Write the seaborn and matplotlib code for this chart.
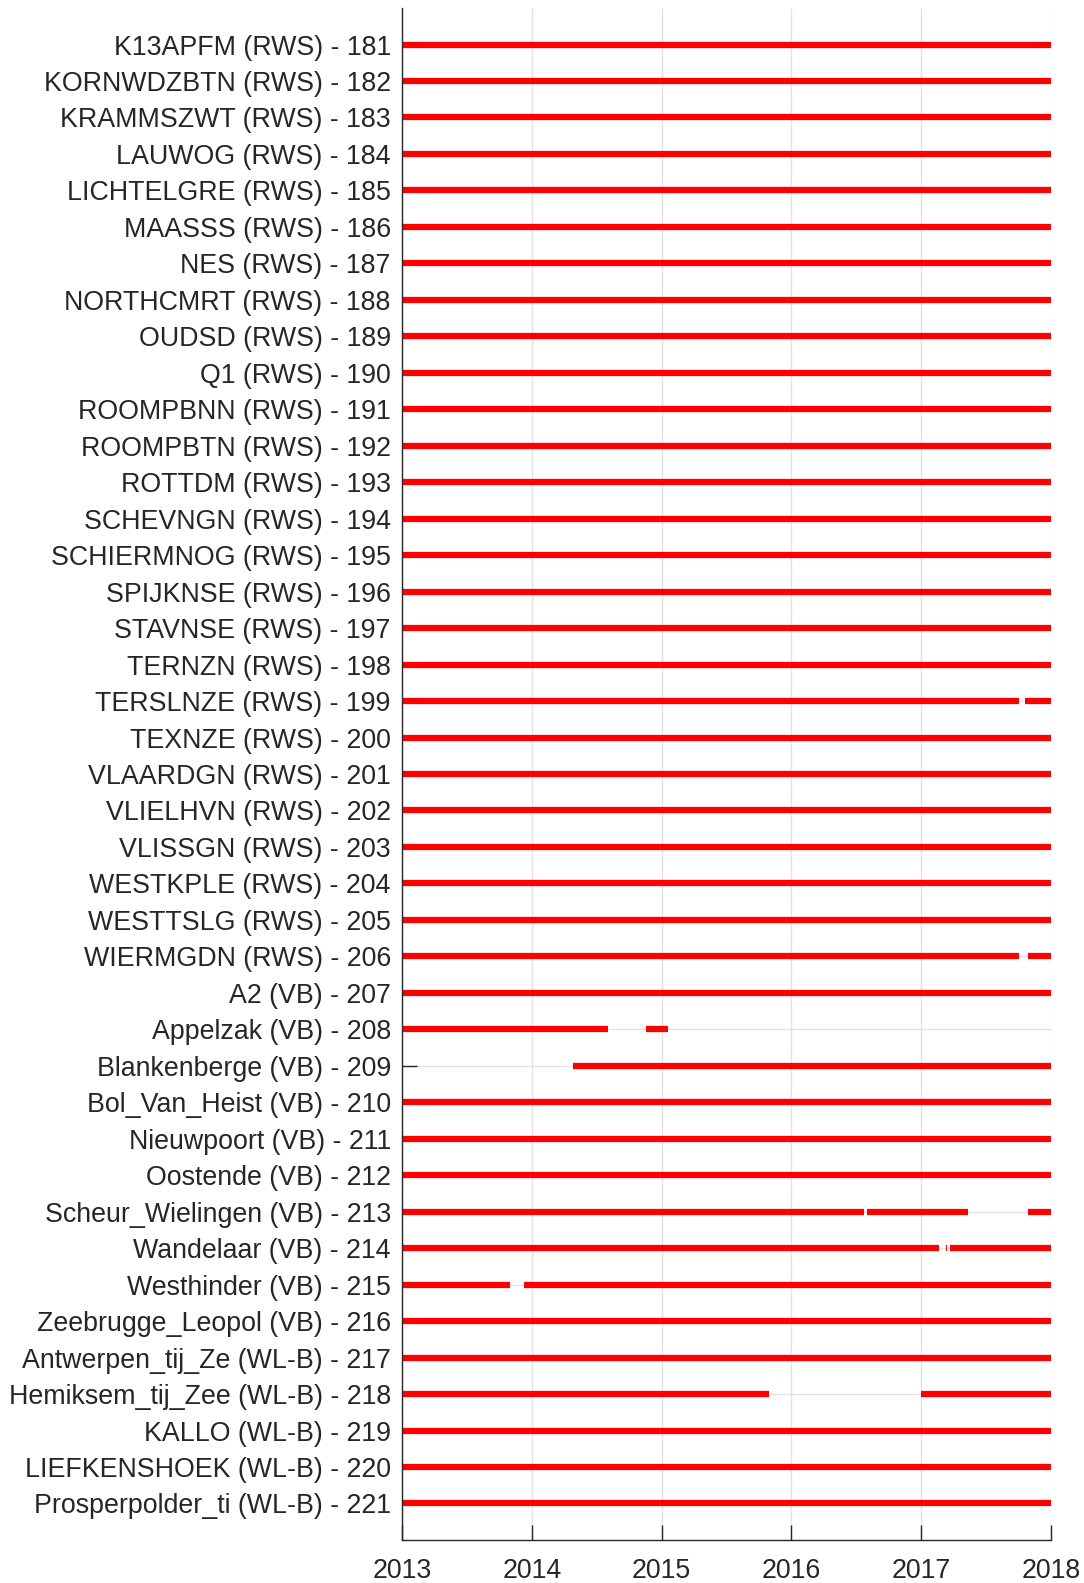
import numpy as np
import pandas as pd
import seaborn as sns
import matplotlib.pyplot as plt

# station names, numbered 181..221 on the y axis
stations = [
    'K13APFM (RWS)', 'KORNWDZBTN (RWS)', 'KRAMMSZWT (RWS)', 'LAUWOG (RWS)',
    'LICHTELGRE (RWS)', 'MAASSS (RWS)', 'NES (RWS)', 'NORTHCMRT (RWS)',
    'OUDSD (RWS)', 'Q1 (RWS)', 'ROOMPBNN (RWS)', 'ROOMPBTN (RWS)',
    'ROTTDM (RWS)', 'SCHEVNGN (RWS)', 'SCHIERMNOG (RWS)', 'SPIJKNSE (RWS)',
    'STAVNSE (RWS)', 'TERNZN (RWS)', 'TERSLNZE (RWS)', 'TEXNZE (RWS)',
    'VLAARDGN (RWS)', 'VLIELHVN (RWS)', 'VLISSGN (RWS)', 'WESTKPLE (RWS)',
    'WESTTSLG (RWS)', 'WIERMGDN (RWS)', 'A2 (VB)', 'Appelzak (VB)',
    'Blankenberge (VB)', 'Bol_Van_Heist (VB)', 'Nieuwpoort (VB)', 'Oostende (VB)',
    'Scheur_Wielingen (VB)', 'Wandelaar (VB)', 'Westhinder (VB)', 'Zeebrugge_Leopol (VB)',
    'Antwerpen_tij_Ze (WL-B)', 'Hemiksem_tij_Zee (WL-B)', 'KALLO (WL-B)',
    'LIEFKENSHOEK (WL-B)', 'Prosperpolder_ti (WL-B)',
]
numbers = list(range(181, 222))

# periods with data (decimal years); default is the full range
full = [(2013.0, 2018.0)]
gaps = {
    199: [(2013.0, 2017.75), (2017.80, 2018.0)],
    206: [(2013.0, 2017.75), (2017.82, 2018.0)],
    208: [(2013.0, 2014.585), (2014.88, 2015.05)],
    209: [(2014.315, 2018.0)],
    213: [(2013.0, 2016.557), (2016.585, 2017.36), (2017.82, 2018.0)],
    214: [(2013.0, 2017.137), (2017.193, 2017.20), (2017.224, 2018.0)],
    215: [(2013.0, 2013.832), (2013.94, 2018.0)],
    218: [(2013.0, 2015.83), (2017.0, 2018.0)],
}
years = [2013, 2014, 2015, 2016, 2017, 2018]

rows = []
seg = 0
for n in numbers:
    for a, b in gaps.get(n, full):
        rows.append({'nr': n, 'year': a, 'seg': seg})
        rows.append({'nr': n, 'year': b, 'seg': seg})
        seg += 1
df = pd.DataFrame(rows)

sns.set_theme(style='white')
plt.rcParams['font.family'] = ['Liberation Sans', 'DejaVu Sans']
txt = '#262626'

fig = plt.figure(figsize=(10.84, 15.83), dpi=100)
ax = fig.add_axes([0.3708, 0.0272, 0.5988, 0.9677])

# thin grey grid
for n in numbers:
    ax.axhline(n, color='#e3e3e3', lw=1.0, zorder=0)
for y in years:
    ax.axvline(y, color='#e3e3e3', lw=1.0, zorder=0)

sns.lineplot(data=df, x='year', y='nr', units='seg', estimator=None, sort=False,
             color='#ff0000', lw=4.5, ax=ax, legend=False, zorder=2)
for l in ax.lines:
    l.set_solid_capstyle('butt')

ax.set_xlim(2013, 2018)
ax.set_ylim(222, 180)
ax.set_xticks(years)
ax.set_xticklabels([str(y) for y in years])
ax.set_yticks(numbers)
ax.set_yticklabels([f'{s} - {n}' for s, n in zip(stations, numbers)])
ax.set_xlabel('')
ax.set_ylabel('')

for side in ['top', 'right']:
    ax.spines[side].set_visible(False)
for side in ['left', 'bottom']:
    ax.spines[side].set_color(txt)
    ax.spines[side].set_linewidth(1.0)

ax.tick_params(axis='both', direction='in', length=11, width=1.0, color=txt,
               labelsize=19.3, labelcolor=txt, bottom=True, left=True,
               top=False, right=False)
ax.tick_params(axis='y', pad=8)
ax.tick_params(axis='x', pad=13)
for t in ax.get_xticklines() + ax.get_yticklines():
    t.set_zorder(1)

fig.savefig('out.png', dpi=100)
